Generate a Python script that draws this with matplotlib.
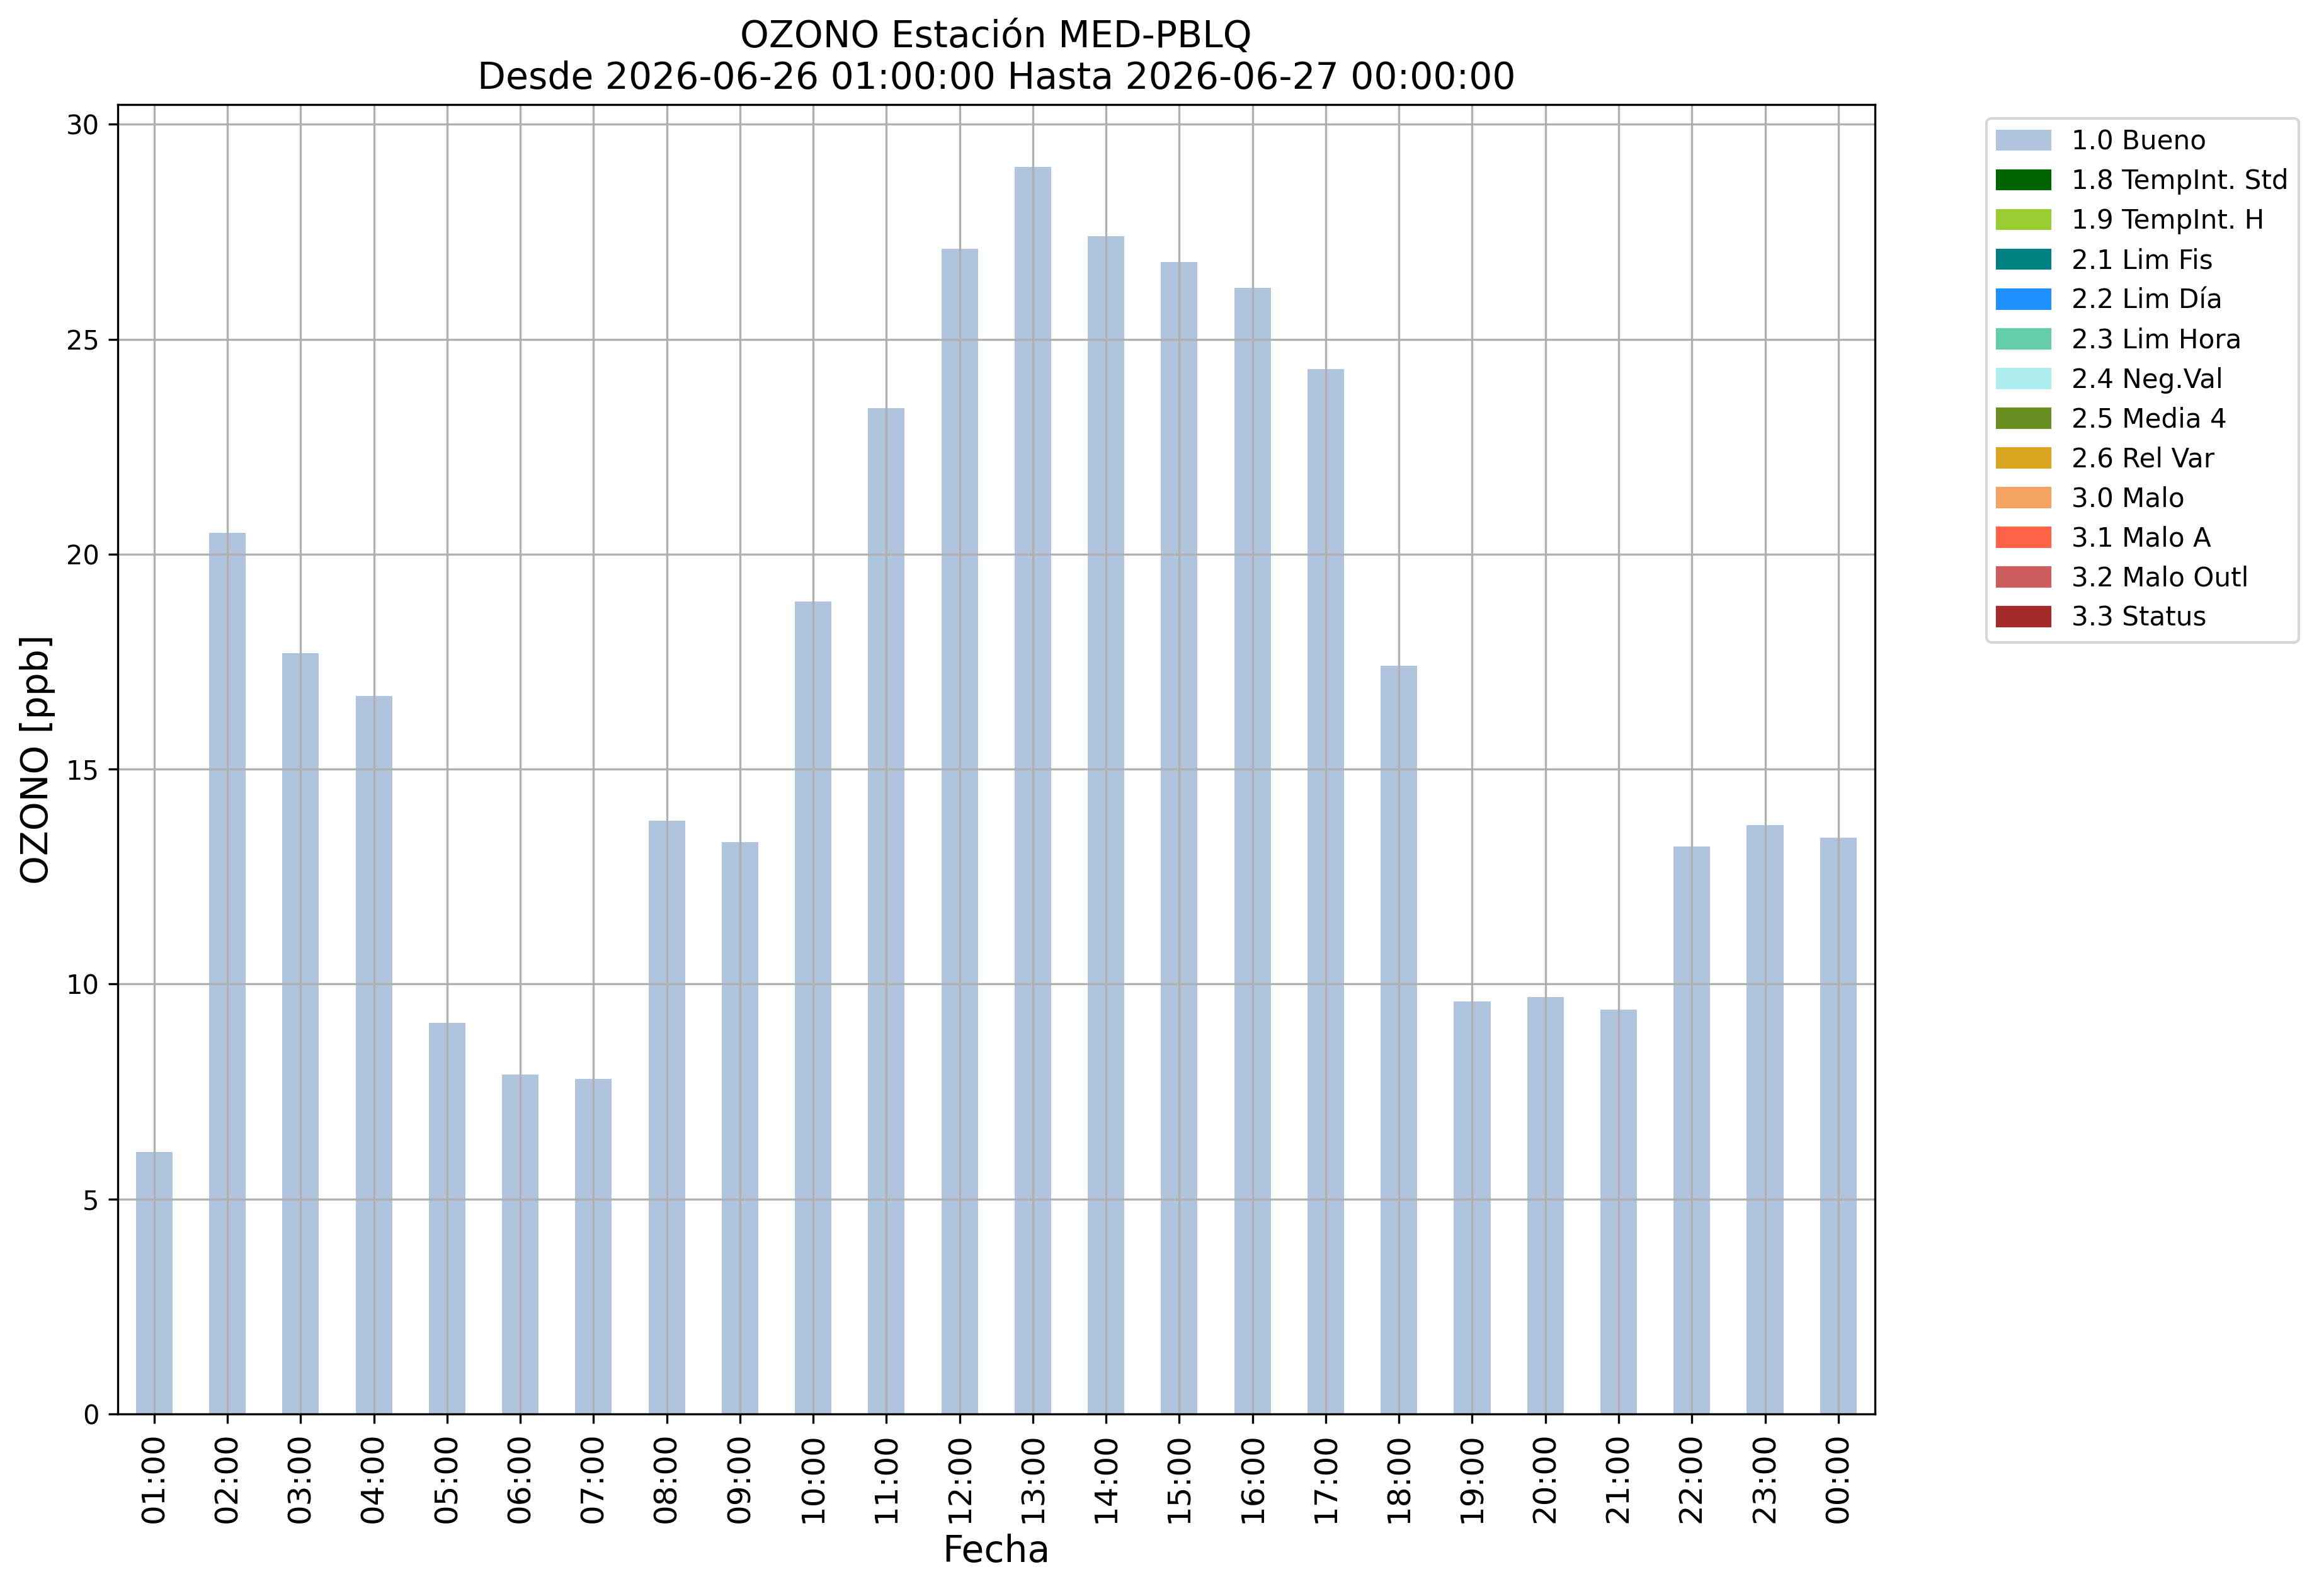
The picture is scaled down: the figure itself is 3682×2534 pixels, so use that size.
import matplotlib
matplotlib.use("Agg")
import matplotlib.pyplot as plt
import matplotlib.patches as mpatches

hours = ["01:00", "02:00", "03:00", "04:00", "05:00", "06:00", "07:00", "08:00",
         "09:00", "10:00", "11:00", "12:00", "13:00", "14:00", "15:00", "16:00",
         "17:00", "18:00", "19:00", "20:00", "21:00", "22:00", "23:00", "00:00"]
ozono = [6.1, 20.5, 17.7, 16.7, 9.1, 7.9, 7.8, 13.8, 13.3, 18.9, 23.4, 27.1,
         29.0, 27.4, 26.8, 26.2, 24.3, 17.4, 9.6, 9.7, 9.4, 13.2, 13.7, 13.4]

flag_labels = ["1.0 Bueno", "1.8 TempInt. Std", "1.9 TempInt. H", "2.1 Lim Fis",
               "2.2 Lim Día", "2.3 Lim Hora", "2.4 Neg.Val", "2.5 Media 4",
               "2.6 Rel Var", "3.0 Malo", "3.1 Malo A", "3.2 Malo Outl", "3.3 Status"]
flag_colors = ["lightsteelblue", "darkgreen", "yellowgreen", "teal", "dodgerblue",
               "mediumaquamarine", "paleturquoise", "olivedrab", "goldenrod",
               "sandybrown", "tomato", "indianred", "brown"]

fig = plt.figure(figsize=(3682 / 300, 2534 / 300), dpi=300)
ax = fig.add_axes([0.0507, 0.1140, 0.8085 - 0.0507, 0.9343 - 0.1140])

x = list(range(len(hours)))
ax.bar(x, ozono, width=0.5, color=flag_colors[0])
ax.set_xlim(-0.5, len(hours) - 0.5)
ax.set_xticks(x)
ax.set_xticklabels(hours, rotation=90, fontsize=12)
ax.tick_params(axis="y", labelsize=10)
ax.set_yticks([0, 5, 10, 15, 20, 25, 30])
ax.grid(True)

ax.set_title("OZONO Estación MED-PBLQ\nDesde 2026-06-26 01:00:00 Hasta 2026-06-27 00:00:00",
             fontsize=14)
ax.set_xlabel("Fecha", fontsize=14)
ax.set_ylabel("OZONO [ppb]", fontsize=14)

handles = [mpatches.Patch(color=c, label=l) for c, l in zip(flag_colors, flag_labels)]
ax.legend(handles=handles, bbox_to_anchor=(1.056, 1), loc="upper left", fontsize=10.1)

fig.savefig("out.png", dpi=300)
